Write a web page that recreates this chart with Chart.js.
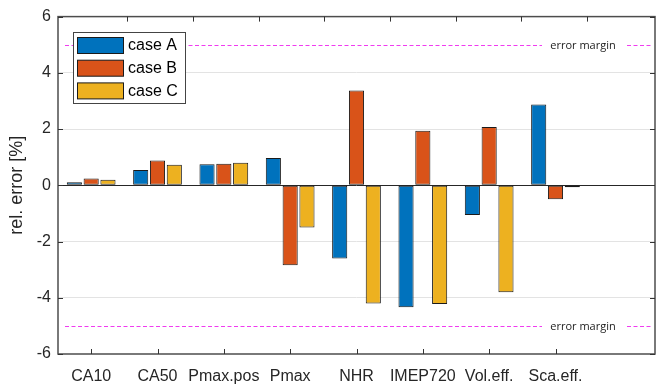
<!DOCTYPE html>
<html>
<head>
<meta charset="utf-8">
<script src="https://cdn.jsdelivr.net/npm/chart.js@4"></script>
<style>
  body { margin: 0; background: #fff; }
  canvas { display: block; }
</style>
</head>
<body>
<canvas id="chart" width="657" height="384"></canvas>
<script>
// data
const categories = ['CA10', 'CA50', 'Pmax.pos', 'Pmax', 'NHR', 'IMEP720', 'Vol.eff.', 'Sca.eff.'];
const caseA = [0.11, 0.54, 0.75, 0.97, -2.6, -4.34, -1.06, 2.87];
const caseB = [0.24, 0.88, 0.77, -2.84, 3.37, 1.94, 2.07, -0.5];
const caseC = [0.2, 0.73, 0.8, -1.5, -4.2, -4.22, -3.8, -0.07];
const seriesNames = ['case A', 'case B', 'case C'];
const seriesColors = ['#0072BD', '#D95319', '#EDB120'];
const yTicks = [-6, -4, -2, 0, 2, 4, 6];
const errorMargin = [5, -5];
const marginLabel = 'error margin';
const topTicks = [1, 2, 3, 4, 5, 6, 7, 8];

const labels = categories.concat(['']); // empty slot on the right, like the original axes

// inward tick marks, box, error margin lines and the legend
const decorations = {
    id: 'decorations',
    afterDatasetsDraw(chart) {
        const ctx = chart.ctx;
        const a = chart.chartArea;
        const x = chart.scales.x;
        const y = chart.scales.y;
        const xt = chart.scales.xTop;
        ctx.save();

        // error margin lines
        ctx.font = '11px "Open Sans"';
        ctx.textBaseline = 'middle';
        ctx.textAlign = 'center';
        errorMargin.forEach(v => {
            const py = Math.round(y.getPixelForValue(v)) + 0.5;
            ctx.strokeStyle = '#f03cf0';
            ctx.lineWidth = 1;
            ctx.setLineDash([4, 2.5]);
            ctx.beginPath();
            ctx.moveTo(a.left + 7, py);
            ctx.lineTo(a.right - 113, py);
            ctx.moveTo(a.right - 28, py);
            ctx.lineTo(a.right - 3, py);
            ctx.stroke();
            ctx.setLineDash([]);
            ctx.fillStyle = '#222';
            ctx.fillText(marginLabel, a.right - 72, py);
        });

        // axes box
        ctx.strokeStyle = '#4d4d4d';
        ctx.lineWidth = 1.5;
        ctx.strokeRect(a.left, a.top, a.right - a.left, a.bottom - a.top);

        // inward ticks
        ctx.lineWidth = 1;
        ctx.strokeStyle = '#333';
        ctx.beginPath();
        yTicks.forEach(v => {
            const py = Math.round(y.getPixelForValue(v)) + 0.5;
            ctx.moveTo(a.left, py); ctx.lineTo(a.left + 5, py);
            ctx.moveTo(a.right, py); ctx.lineTo(a.right - 5, py);
        });
        categories.forEach((c, i) => {
            const px = Math.round(x.getPixelForValue(i)) + 0.5;
            ctx.moveTo(px, a.bottom); ctx.lineTo(px, a.bottom - 5);
        });
        topTicks.forEach(v => {
            const px = Math.round(xt.getPixelForValue(v)) + 0.5;
            ctx.moveTo(px, a.top); ctx.lineTo(px, a.top + 5);
        });
        ctx.stroke();

        // legend
        const lx = 73, ly = 32, lw = 112, lh = 71;
        ctx.fillStyle = '#fff';
        ctx.fillRect(lx, ly, lw, lh);
        ctx.strokeStyle = '#444';
        ctx.lineWidth = 1;
        ctx.strokeRect(lx + 0.5, ly + 0.5, lw, lh);
        ctx.font = '16px "Liberation Sans"';
        ctx.textAlign = 'left';
        chart.data.datasets.forEach((ds, i) => {
            const ry = ly + 5 + i * 22.7;
            ctx.fillStyle = ds.backgroundColor;
            ctx.fillRect(lx + 4.5, ry + 0.5, 46, 16);
            ctx.strokeStyle = '#1a1a1a';
            ctx.strokeRect(lx + 4.5, ry + 0.5, 46, 16);
            ctx.fillStyle = '#000';
            ctx.fillText(ds.label, lx + 55, ry + 9);
        });
        ctx.restore();
    }
};

new Chart(document.getElementById('chart'), {
    type: 'bar',
    data: {
        labels: labels,
        datasets: [caseA, caseB, caseC].map((d, i) => ({
            label: seriesNames[i],
            data: d,
            backgroundColor: seriesColors[i],
            borderColor: '#1a1a1a',
            borderWidth: 1,
            borderSkipped: false,
            categoryPercentage: 0.76,
            barPercentage: 0.9
        }))
    },
    options: {
        responsive: false,
        animation: false,
        devicePixelRatio: 1,
        layout: { padding: { top: 15, right: 2, left: 0, bottom: 0 } },
        plugins: {
            legend: { display: false },
            tooltip: { enabled: false }
        },
        scales: {
            x: {
                grid: { display: false },
                border: { display: false },
                ticks: {
                    color: '#262626',
                    font: { family: 'Liberation Sans', size: 16 },
                    padding: 5,
                    maxRotation: 0,
                    autoSkip: false
                },
                afterFit: s => { s.height = 30; }
            },
            xTop: {
                type: 'linear',
                position: 'top',
                display: false,
                min: 0.51,
                max: 8.47
            },
            y: {
                min: -6,
                max: 6,
                afterBuildTicks: s => { s.ticks = yTicks.map(v => ({ value: v })); },
                grid: {
                    drawTicks: false,
                    color: c => {
                        const v = c.tick ? c.tick.value : null;
                        if (v === 0) return '#262626';
                        if (v === 6 || v === -6) return 'rgba(0,0,0,0)';
                        return '#e3e3e3';
                    }
                },
                border: { display: false },
                ticks: {
                    color: '#262626',
                    font: { family: 'Liberation Sans', size: 16 },
                    padding: 7
                },
                title: {
                    display: true,
                    text: 'rel. error [%]',
                    color: '#262626',
                    font: { family: 'Liberation Sans', size: 18 },
                    padding: { top: 6, bottom: 0 }
                },
                afterFit: s => { s.width = 58; }
            }
        }
    },
    plugins: [decorations]
});
</script>
</body>
</html>
